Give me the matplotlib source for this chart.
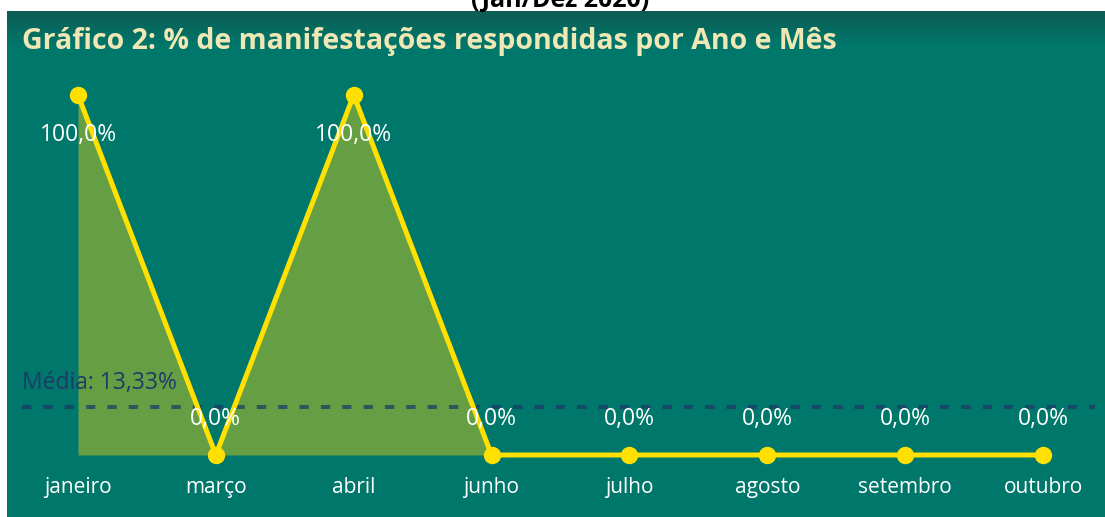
import numpy as np
import matplotlib
matplotlib.use("Agg")
import matplotlib.pyplot as plt
from matplotlib.colors import to_rgb

# dados
meses = ["janeiro", "março", "abril", "junho", "julho", "agosto", "setembro", "outubro"]
respondidas = [100.0, 0.0, 100.0, 0.0, 0.0, 0.0, 0.0, 0.0]
media = 13.33

titulo = "Gráfico 2: % de manifestações respondidas por Ano e Mês"
subtitulo = "(Jan/Dez 2020)"

TEAL = "#00776B"
TEAL_TOP = "#0C5C54"
VERDE = "#669E44"
AMARELO = "#FFE000"
AZUL = "#1E3A66"

plt.rcParams['font.family'] = ['Open Sans', 'DejaVu Sans']

W, H = 1105, 517
fig = plt.figure(figsize=(W / 100, H / 100), dpi=100, facecolor="white")

fig.text(560 / W, 1 - 7 / H, subtitulo, color="black", fontsize=18,
         fontweight="bold", ha="center", va="baseline", zorder=0)

# painel de fundo, com leve gradiente no topo (em pixels)
bg = fig.add_axes([7 / W, 0, 1 - 7 / W, 1 - 11 / H])
bg.set_axis_off()
bg.set_xlim(0, 1)
bg.set_ylim(506, 0)
bg.axhspan(0, 506, color=TEAL, lw=0)
c0, c1 = np.array(to_rgb(TEAL_TOP)), np.array(to_rgb(TEAL))
n = 36
for i in range(n):
    t = i / (n - 1)
    bg.axhspan(i, i + 1, color=tuple(c0 * (1 - t) + c1 * t), lw=0)

ax = fig.add_axes([7 / W, 0, 1 - 7 / W, 1 - 11 / H])
ax.patch.set_alpha(0)
x = np.arange(len(meses))
px = 137.86
ax.set_xlim(-(78 - 7) / px, 7 + (1105 - 1043) / px)
ax.set_ylim(-(517 - 455) / 3.6, 100 + (95 - 11) / 3.6)
for s in ax.spines.values():
    s.set_visible(False)
ax.set_xticks([])
ax.set_yticks([])

ax.fill_between(x, respondidas, 0, color=VERDE, lw=0, zorder=1)
ax.plot([-0.406, 7.377], [media, media], color=AZUL, alpha=0.75, lw=2.9,
        linestyle=(0, (2.3, 3.0)), zorder=2)
ax.plot(x, respondidas, color=AMARELO, lw=3.6, marker="o", ms=11.5,
        solid_joinstyle="miter", zorder=3)

ax.text(-0.406, media + 6.8, f"Média: {media:.2f}%".replace(".", ","),
        color=AZUL, fontsize=16.5, ha="left", va="center", zorder=4)

for xi, v in zip(x, respondidas):
    lbl = f"{v:.1f}%".replace(".", ",")
    if v > 50:
        ax.text(xi, v - 11.2, lbl, color="white", fontsize=16.5, ha="center", va="center", zorder=4)
    else:
        ax.text(xi, v + 10.0, lbl, color="white", fontsize=16.5, ha="center", va="center", zorder=4)
    ax.text(xi, -9, meses[xi], color="white", fontsize=15, ha="center", va="center", zorder=4)

fig.text(22 / W, 1 - 42 / H, titulo, color="#EFE8B4", fontsize=20.5,
         fontweight="bold", ha="left", va="center")

fig.savefig("out.png", dpi=100, facecolor="white")
